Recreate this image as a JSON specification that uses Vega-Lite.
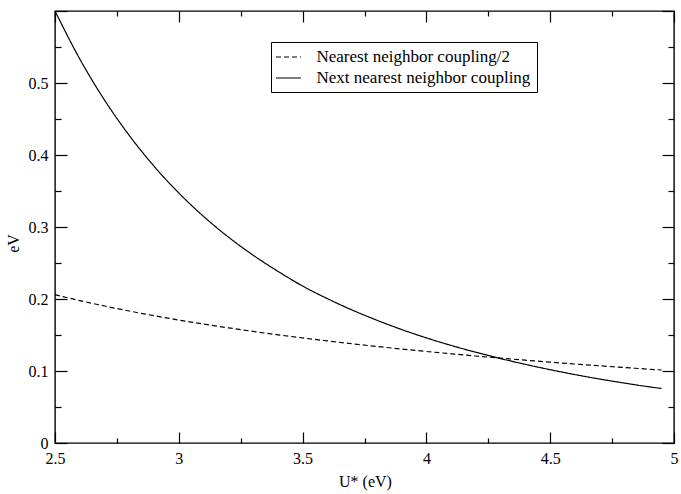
{
  "$schema": "https://vega.github.io/schema/vega-lite/v6.json",
  "width": 619,
  "height": 432,
  "autosize": "none",
  "padding": {"left": 55, "top": 11, "right": 7, "bottom": 51},
  "background": "white",
  "config": {
    "view": {"stroke": "black", "strokeWidth": 1.4},
    "font": "Liberation Serif"
  },
  "data": {
    "values": [
      {"U": 2.5, "value": 0.600, "series": "Next nearest neighbor coupling"},
      {"U": 2.6, "value": 0.5334, "series": "Next nearest neighbor coupling"},
      {"U": 2.7, "value": 0.4763, "series": "Next nearest neighbor coupling"},
      {"U": 2.8, "value": 0.4271, "series": "Next nearest neighbor coupling"},
      {"U": 2.9, "value": 0.3844, "series": "Next nearest neighbor coupling"},
      {"U": 3.0, "value": 0.3472, "series": "Next nearest neighbor coupling"},
      {"U": 3.1, "value": 0.3147, "series": "Next nearest neighbor coupling"},
      {"U": 3.2, "value": 0.2861, "series": "Next nearest neighbor coupling"},
      {"U": 3.3, "value": 0.2609, "series": "Next nearest neighbor coupling"},
      {"U": 3.4, "value": 0.2385, "series": "Next nearest neighbor coupling"},
      {"U": 3.5, "value": 0.2180, "series": "Next nearest neighbor coupling"},
      {"U": 3.6, "value": 0.2005, "series": "Next nearest neighbor coupling"},
      {"U": 3.7, "value": 0.1847, "series": "Next nearest neighbor coupling"},
      {"U": 3.8, "value": 0.1705, "series": "Next nearest neighbor coupling"},
      {"U": 3.9, "value": 0.1576, "series": "Next nearest neighbor coupling"},
      {"U": 4.0, "value": 0.1460, "series": "Next nearest neighbor coupling"},
      {"U": 4.1, "value": 0.1355, "series": "Next nearest neighbor coupling"},
      {"U": 4.2, "value": 0.1260, "series": "Next nearest neighbor coupling"},
      {"U": 4.3, "value": 0.1172, "series": "Next nearest neighbor coupling"},
      {"U": 4.4, "value": 0.1092, "series": "Next nearest neighbor coupling"},
      {"U": 4.5, "value": 0.1018, "series": "Next nearest neighbor coupling"},
      {"U": 4.6, "value": 0.0950, "series": "Next nearest neighbor coupling"},
      {"U": 4.7, "value": 0.0888, "series": "Next nearest neighbor coupling"},
      {"U": 4.8, "value": 0.0832, "series": "Next nearest neighbor coupling"},
      {"U": 4.9, "value": 0.0780, "series": "Next nearest neighbor coupling"},
      {"U": 4.95, "value": 0.0757, "series": "Next nearest neighbor coupling"},
      {"U": 2.5, "value": 0.2060, "series": "Nearest neighbor coupling/2"},
      {"U": 2.6, "value": 0.1978, "series": "Nearest neighbor coupling/2"},
      {"U": 2.7, "value": 0.1903, "series": "Nearest neighbor coupling/2"},
      {"U": 2.8, "value": 0.1833, "series": "Nearest neighbor coupling/2"},
      {"U": 2.9, "value": 0.1768, "series": "Nearest neighbor coupling/2"},
      {"U": 3.0, "value": 0.1708, "series": "Nearest neighbor coupling/2"},
      {"U": 3.1, "value": 0.1652, "series": "Nearest neighbor coupling/2"},
      {"U": 3.2, "value": 0.1600, "series": "Nearest neighbor coupling/2"},
      {"U": 3.3, "value": 0.1550, "series": "Nearest neighbor coupling/2"},
      {"U": 3.4, "value": 0.1503, "series": "Nearest neighbor coupling/2"},
      {"U": 3.5, "value": 0.1459, "series": "Nearest neighbor coupling/2"},
      {"U": 3.6, "value": 0.1418, "series": "Nearest neighbor coupling/2"},
      {"U": 3.7, "value": 0.1378, "series": "Nearest neighbor coupling/2"},
      {"U": 3.8, "value": 0.1341, "series": "Nearest neighbor coupling/2"},
      {"U": 3.9, "value": 0.1305, "series": "Nearest neighbor coupling/2"},
      {"U": 4.0, "value": 0.1271, "series": "Nearest neighbor coupling/2"},
      {"U": 4.1, "value": 0.1239, "series": "Nearest neighbor coupling/2"},
      {"U": 4.2, "value": 0.1208, "series": "Nearest neighbor coupling/2"},
      {"U": 4.3, "value": 0.1179, "series": "Nearest neighbor coupling/2"},
      {"U": 4.4, "value": 0.1150, "series": "Nearest neighbor coupling/2"},
      {"U": 4.5, "value": 0.1123, "series": "Nearest neighbor coupling/2"},
      {"U": 4.6, "value": 0.1097, "series": "Nearest neighbor coupling/2"},
      {"U": 4.7, "value": 0.1072, "series": "Nearest neighbor coupling/2"},
      {"U": 4.8, "value": 0.1048, "series": "Nearest neighbor coupling/2"},
      {"U": 4.9, "value": 0.1025, "series": "Nearest neighbor coupling/2"},
      {"U": 4.95, "value": 0.1014, "series": "Nearest neighbor coupling/2"}
    ]
  },
  "layer": [
    {
      "mark": {"type": "line", "color": "black", "strokeWidth": 1.2, "interpolate": "monotone", "clip": true},
      "encoding": {
        "x": {
          "field": "U", "type": "quantitative",
          "scale": {"domain": [2.5, 5], "nice": false, "zero": false},
          "axis": {
            "orient": "bottom",
            "values": [2.5, 2.75, 3, 3.25, 3.5, 3.75, 4, 4.25, 4.5, 4.75, 5],
            "format": "~g",
            "labelExpr": "abs(datum.value*2-round(datum.value*2))<0.001 ? datum.label : ''",
            "tickSize": {"condition": {"test": "abs(datum.value*2-round(datum.value*2))<0.001", "value": -11}, "value": -5},
            "tickColor": "black", "tickWidth": 1.2,
            "domain": false, "grid": false,
            "labelFont": "Liberation Serif", "labelFontSize": 16, "labelColor": "black",
            "labelPadding": 18, "labelFlush": false, "labelOverlap": false,
            "title": "U* (eV)",
            "titleFont": "Liberation Serif", "titleFontSize": 16, "titleFontWeight": "normal", "titleColor": "black",
            "titleX": 310, "titleY": 43, "titleBaseline": "alphabetic"
          }
        },
        "y": {
          "field": "value", "type": "quantitative",
          "scale": {"domain": [0, 0.6], "nice": false},
          "axis": {
            "orient": "left",
            "values": [0, 0.05, 0.1, 0.15, 0.2, 0.25, 0.3, 0.35, 0.4, 0.45, 0.5, 0.55, 0.6],
            "format": "~g",
            "labelExpr": "(abs(datum.value*10-round(datum.value*10))<0.001 && datum.value < 0.55) ? datum.label : ''",
            "tickSize": {"condition": {"test": "abs(datum.value*10-round(datum.value*10))<0.001", "value": -12}, "value": -6},
            "tickColor": "black", "tickWidth": 1.2,
            "domain": false, "grid": false,
            "labelFont": "Liberation Serif", "labelFontSize": 16, "labelColor": "black",
            "labelPadding": 19, "labelFlush": false, "labelOverlap": false,
            "title": "eV",
            "titleFont": "Liberation Serif", "titleFontSize": 16, "titleFontWeight": "normal", "titleColor": "black",
            "titleX": -42, "titleY": 232, "titleAngle": -90, "titleAlign": "center", "titleBaseline": "middle"
          }
        },
        "strokeDash": {
          "field": "series", "type": "nominal",
          "scale": {"domain": ["Nearest neighbor coupling/2", "Next nearest neighbor coupling"], "range": [[5, 3], [1, 0]]},
          "legend": {
            "orient": "none", "legendX": 216, "legendY": 31,
            "title": null,
            "strokeColor": "black", "fillColor": "white", "padding": 6,
            "symbolType": "M-1.5625,0H1.5625", "symbolSize": 256, "symbolOffset": 2.5,
            "symbolStrokeColor": "black", "symbolStrokeWidth": 1.2, "symbolFillColor": "transparent",
            "labelFont": "Liberation Serif", "labelFontSize": 17, "labelColor": "black", "labelLimit": 400,
            "labelOffset": 19, "rowPadding": 4
          }
        }
      }
    },
    {
      "mark": {"type": "line", "opacity": 0},
      "encoding": {
        "x": {
          "field": "U", "type": "quantitative",
          "axis": {
            "orient": "top",
            "values": [2.5, 2.75, 3, 3.25, 3.5, 3.75, 4, 4.25, 4.5, 4.75, 5],
            "labels": false,
            "tickSize": {"condition": {"test": "abs(datum.value*2-round(datum.value*2))<0.001", "value": -11}, "value": -5},
            "tickColor": "black", "tickWidth": 1.2,
            "domain": false, "grid": false, "title": null
          }
        },
        "y": {
          "field": "value", "type": "quantitative",
          "axis": {
            "orient": "right",
            "values": [0, 0.05, 0.1, 0.15, 0.2, 0.25, 0.3, 0.35, 0.4, 0.45, 0.5, 0.55, 0.6],
            "labels": false,
            "tickSize": {"condition": {"test": "abs(datum.value*10-round(datum.value*10))<0.001", "value": -12}, "value": -6},
            "tickColor": "black", "tickWidth": 1.2,
            "domain": false, "grid": false, "title": null
          }
        },
        "detail": {"field": "series", "type": "nominal"}
      }
    }
  ],
  "resolve": {"axis": {"x": "independent", "y": "independent"}}
}
